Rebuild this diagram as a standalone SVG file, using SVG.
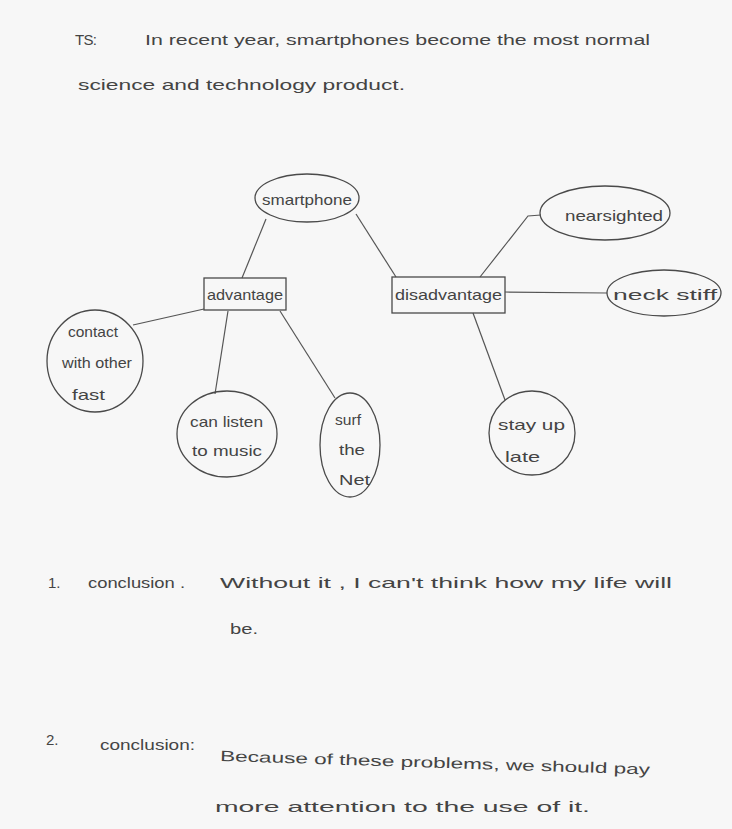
<svg xmlns="http://www.w3.org/2000/svg" width="732" height="829" viewBox="0 0 732 829">
<style>
.t{font-family:"Liberation Sans",Arial,sans-serif;font-size:15px;fill:#444}
.n{fill:none;stroke:#4a4a4a;stroke-width:1.3}
.c{fill:none;stroke:#555;stroke-width:1.2}
</style>
<rect width="732" height="829" fill="#f7f7f7"/>
<g id="header">
<text class="t" x="75" y="45" textLength="22">TS:</text>
<text class="t" x="145" y="45" textLength="505" lengthAdjust="spacingAndGlyphs">In recent year,  smartphones  become  the  most  normal</text>
<text class="t" x="78" y="90" textLength="327" lengthAdjust="spacingAndGlyphs">science  and  technology  product.</text>
</g>
<g id="connectors">
<line class="c" x1="266" y1="219" x2="242" y2="278"/>
<line class="c" x1="356" y1="214" x2="396" y2="277"/>
<line class="c" x1="204" y1="309" x2="133" y2="325"/>
<line class="c" x1="228" y1="311" x2="215" y2="394"/>
<line class="c" x1="280" y1="311" x2="335" y2="398"/>
<polyline class="c" points="480,277 528,216 541,215"/>
<line class="c" x1="505" y1="292" x2="607" y2="293"/>
<line class="c" x1="473" y1="313" x2="505" y2="400"/>
</g>
<g id="smartphone">
<ellipse class="n" cx="307" cy="198" rx="52" ry="24"/>
<text class="t" x="262" y="205" textLength="90" lengthAdjust="spacingAndGlyphs">smartphone</text>
</g>
<g id="advantage">
<rect class="n" x="204" y="278" width="82" height="32"/>
<text class="t" x="207" y="300" textLength="76" lengthAdjust="spacingAndGlyphs">advantage</text>
</g>
<g id="disadvantage">
<rect class="n" x="392" y="277" width="113" height="36"/>
<text class="t" x="395" y="300" textLength="107" lengthAdjust="spacingAndGlyphs">disadvantage</text>
</g>
<g id="contact">
<ellipse class="n" cx="95" cy="361" rx="48" ry="51"/>
<text class="t" x="68" y="337" textLength="50" lengthAdjust="spacingAndGlyphs">contact</text>
<text class="t" x="62" y="368" textLength="70" lengthAdjust="spacingAndGlyphs">with other</text>
<text class="t" x="72" y="400" textLength="33" lengthAdjust="spacingAndGlyphs">fast</text>
</g>
<g id="listen">
<ellipse class="n" cx="227" cy="434" rx="50" ry="43"/>
<text class="t" x="190" y="427" textLength="73" lengthAdjust="spacingAndGlyphs">can listen</text>
<text class="t" x="192" y="456" textLength="70" lengthAdjust="spacingAndGlyphs">to  music</text>
</g>
<g id="surf">
<ellipse class="n" cx="350" cy="445" rx="30" ry="52"/>
<text class="t" x="335" y="425" textLength="26" lengthAdjust="spacingAndGlyphs">surf</text>
<text class="t" x="339" y="455" textLength="26" lengthAdjust="spacingAndGlyphs">the</text>
<text class="t" x="339" y="485" textLength="31" lengthAdjust="spacingAndGlyphs">Net</text>
</g>
<g id="nearsighted">
<ellipse class="n" cx="605" cy="213" rx="65" ry="27"/>
<text class="t" x="565" y="221" textLength="98" lengthAdjust="spacingAndGlyphs">nearsighted</text>
</g>
<g id="neckstiff">
<ellipse class="n" cx="664" cy="293" rx="57" ry="23"/>
<text class="t" x="613" y="300" textLength="104" lengthAdjust="spacingAndGlyphs">neck   stiff</text>
</g>
<g id="stayup">
<ellipse class="n" cx="532" cy="433" rx="43" ry="42"/>
<text class="t" x="498" y="430" textLength="67" lengthAdjust="spacingAndGlyphs">stay up</text>
<text class="t" x="505" y="462" textLength="35" lengthAdjust="spacingAndGlyphs">late</text>
</g>
<g id="conclusions">
<text class="t" x="48" y="588">1.</text>
<text class="t" x="88" y="588" textLength="97" lengthAdjust="spacingAndGlyphs">conclusion .</text>
<text class="t" x="220" y="588" textLength="452" lengthAdjust="spacingAndGlyphs">Without it ,  I  can't  think  how  my  life  will</text>
<text class="t" x="230" y="634" textLength="28" lengthAdjust="spacingAndGlyphs">be.</text>
<text class="t" x="46" y="745" font-size="12">2.</text>
<text class="t" x="100" y="750" textLength="95" lengthAdjust="spacingAndGlyphs">conclusion:</text>
<text class="t" x="220" y="761" textLength="430" lengthAdjust="spacingAndGlyphs" transform="rotate(1.8 220 761)">Because  of  these  problems,  we  should  pay</text>
<text class="t" x="215" y="812" textLength="375" lengthAdjust="spacingAndGlyphs">more  attention  to  the  use  of  it.</text>
</g>
</svg>
